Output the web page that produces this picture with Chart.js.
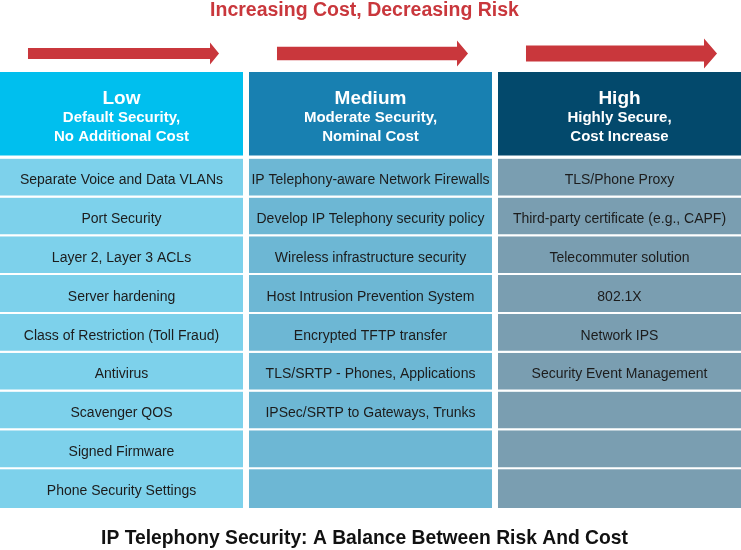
<!DOCTYPE html>
<html>
<head>
<meta charset="utf-8">
<script src="https://cdn.jsdelivr.net/npm/chart.js@4.4.1/dist/chart.umd.min.js"></script>
<style>
    html, body { margin: 0; padding: 0; background: #fff; overflow: hidden; }
    #wrap { position: relative; width: 741px; height: 550px; overflow: hidden; }
    #secChart { position: absolute; left: -3px; top: 0; }
</style>
</head>
<body>
<div id="wrap">
    <canvas id="secChart" width="747" height="550"></canvas>
</div>
<script>
// columns (security level)
const levels = ['Low', 'Medium', 'High']
const levelNotes = [
    ['Default Security,', 'No Additional Cost'],
    ['Moderate Security,', 'Nominal Cost'],
    ['Highly Secure,', 'Cost Increase']
]
// items per column, top to bottom
const lowItems = [
    'Separate Voice and Data VLANs',
    'Port Security',
    'Layer 2, Layer 3 ACLs',
    'Server hardening',
    'Class of Restriction (Toll Fraud)',
    'Antivirus',
    'Scavenger QOS',
    'Signed Firmware',
    'Phone Security Settings'
]
const mediumItems = [
    'IP Telephony-aware Network Firewalls',
    'Develop IP Telephony security policy',
    'Wireless infrastructure security',
    'Host Intrusion Prevention System',
    'Encrypted TFTP transfer',
    'TLS/SRTP - Phones, Applications',
    'IPSec/SRTP to Gateways, Trunks'
]
const highItems = [
    'TLS/Phone Proxy',
    'Third-party certificate (e.g., CAPF)',
    'Telecommuter solution',
    '802.1X',
    'Network IPS',
    'Security Event Management'
]
const rowCount = 9
const topTitle = 'Increasing Cost, Decreasing Risk'
const bottomTitle = 'IP Telephony Security: A Balance Between Risk And Cost'

const itemsByLevel = [lowItems, mediumItems, highItems]
const headColors = ['#00bfee', '#1880b1', '#03496c']
const cellColors = ['#7dd1eb', '#6db7d4', '#7a9eb1']
const redColor = '#c9373c'
const headSpan = 2.23   // header height in row units

//construct the stacked cells: one header dataset, then one dataset per row
let datasets = []
datasets.push({
    label: 'header',
    data: levels.map(() => headSpan),
    backgroundColor: headColors,
    borderColor: '#ffffff',
    borderWidth: {top: 0, bottom: 3, left: 0, right: 0},
    borderSkipped: false,
    texts: levels.map((l, i) => [l].concat(levelNotes[i]))
})
for (let r = 0; r < rowCount; r++) {
    datasets.push({
        label: 'row' + (r + 1),
        data: levels.map(() => 1),
        backgroundColor: cellColors,
        borderColor: '#ffffff',
        borderWidth: {top: 0, bottom: r == rowCount - 1 ? 0 : 2, left: 0, right: 0},
        borderSkipped: false,
        texts: itemsByLevel.map(items => items[r] ? [items[r]] : [])
    })
}

// draws the arrows, headings and cell labels
const labelPlugin = {
    id: 'cellLabels',
    afterDatasetsDraw(chart) {
        const ctx = chart.ctx
        const xs = chart.scales.x
        const half = xs.width / levels.length * 0.976 / 2
        ctx.save()
        ctx.textAlign = 'center'
        ctx.textBaseline = 'middle'

        // arrows above each column, growing left to right
        levels.forEach((l, i) => {
            const cx = xs.getPixelForValue(i)
            const x0 = cx - half + 28
            const x1 = cx + half - 24
            const cy = 53.5
            const shaft = 11 + i * 2.5
            const headH = 22 + i * 4
            const headL = 9 + i * 2
            ctx.fillStyle = redColor
            ctx.beginPath()
            ctx.moveTo(x0, cy - shaft / 2)
            ctx.lineTo(x1 - headL, cy - shaft / 2)
            ctx.lineTo(x1 - headL, cy - headH / 2)
            ctx.lineTo(x1, cy)
            ctx.lineTo(x1 - headL, cy + headH / 2)
            ctx.lineTo(x1 - headL, cy + shaft / 2)
            ctx.lineTo(x0, cy + shaft / 2)
            ctx.closePath()
            ctx.fill()
        })

        chart.data.datasets.forEach((ds, d) => {
            const meta = chart.getDatasetMeta(d)
            meta.data.forEach((bar, i) => {
                const lines = ds.texts[i]
                if (!lines.length) return
                if (d == 0) {
                    const top = Math.min(bar.y, bar.base)
                    ctx.fillStyle = '#ffffff'
                    ctx.font = 'bold 19px "Liberation Sans", Arial, sans-serif'
                    ctx.fillText(lines[0], bar.x, top + 26.5)
                    ctx.font = 'bold 15px "Liberation Sans", Arial, sans-serif'
                    ctx.fillText(lines[1], bar.x, top + 45.5)
                    ctx.fillText(lines[2], bar.x, top + 64.5)
                } else {
                    const mid = (bar.y + bar.base) / 2 + 2.5
                    ctx.fillStyle = '#1c1c1c'
                    ctx.font = '14px "Liberation Sans", Arial, sans-serif'
                    ctx.fillText(lines[0], bar.x, mid)
                }
            })
        })

        // titles
        const cw = 367.5
        ctx.fillStyle = redColor
        ctx.font = 'bold 19.5px "Liberation Sans", Arial, sans-serif'
        ctx.fillText(topTitle, cw, 11)
        ctx.fillStyle = '#111111'
        ctx.font = 'bold 19.3px "Liberation Sans", Arial, sans-serif'
        ctx.fillText(bottomTitle, cw, 539)
        ctx.restore()
    }
}

new Chart('secChart', {
    type: 'bar',
    data: {
        labels: levels,
        datasets: datasets
    },
    options: {
        responsive: false,
        animation: false,
        devicePixelRatio: 1,
        categoryPercentage: 1,
        barPercentage: 0.976,
        layout: {
            padding: {top: 72, bottom: 42, left: 0, right: 0}
        },
        plugins: {
            legend: { display: false },
            tooltip: { enabled: false },
            title: { display: false }
        },
        scales: {
            x: {
                stacked: true,
                display: false,
            },
            y: {
                stacked: true,
                reverse: true,
                display: false,
                min: 0,
                max: headSpan + rowCount,
            },
        },
    },
    plugins: [labelPlugin]
})
</script>
</body>
</html>
